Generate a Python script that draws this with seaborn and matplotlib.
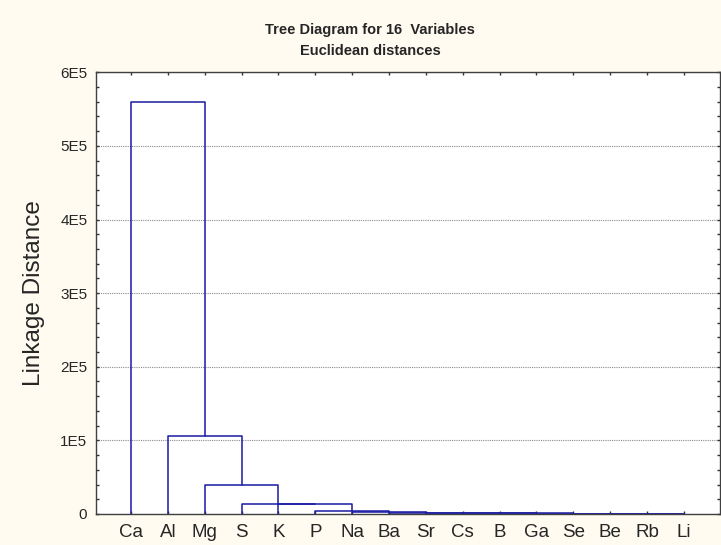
import numpy as np
import pandas as pd
import matplotlib
matplotlib.use('Agg')
import matplotlib.pyplot as plt
from matplotlib.ticker import MultipleLocator
import seaborn as sns

# データ (Statistica tree diagram, single chain of joins)
leaves = ['Ca', 'Al', 'Mg', 'S', 'K', 'P', 'Na', 'Ba', 'Sr', 'Cs', 'B', 'Ga', 'Se', 'Be', 'Rb', 'Li']
# linkage distance at which each leaf joins the cluster of everything to its right
join_dist = [5.60e5, 1.058e5, 3.98e4, 1.40e4, 1.40e4, 3.8e3, 3.0e3, 1.6e3,
             1.4e3, 1.3e3, 1.1e3, 0.0, 0.0, 0.0, 0.0]
ytick_values = [0, 1e5, 2e5, 3e5, 4e5, 5e5, 6e5]
ytick_labels = ['0', '1E5', '2E5', '3E5', '4E5', '5E5', '6E5']

title1 = 'Tree Diagram for 16  Variables'
title2 = 'Euclidean distances'

line_color = '#1a1aa6'
bg_color = '#FFFBF0'

# build the link segments (cluster line sits at its second leaf, like Statistica)
n = len(leaves)
pos = list(range(n))
line_pos = [i + 1 for i in range(n - 1)] + [n - 1]
rows = []
for i, h in enumerate(join_dist):
    right = line_pos[i + 1]
    base = join_dist[i + 1] if i + 1 < n - 1 else 0.0
    for x, y in [(pos[i], 0.0), (pos[i], h), (right, h), (right, base)]:
        rows.append({'seg': i, 'x': x, 'y': y})
seg_df = pd.DataFrame(rows)

sns.set_theme(style='ticks')
plt.rcParams['font.family'] = ['Liberation Sans', 'DejaVu Sans']

fig = plt.figure(figsize=(7.21, 5.45), dpi=100, facecolor=bg_color)
ax = fig.add_axes([0.1327, 0.0569, 0.8659, 0.8104])
ax.set_facecolor('white')

sns.lineplot(data=seg_df, x='x', y='y', units='seg', estimator=None, sort=False,
             color=line_color, lw=1.1, ax=ax, legend=False)

ax.set_xlim(-0.96, 15.98)
ax.set_ylim(0, 6e5)
ax.set_xticks(pos)
ax.set_xticklabels(leaves, fontsize=13.5)
ax.set_yticks(ytick_values)
ax.set_yticklabels(ytick_labels, fontsize=11)
ax.yaxis.set_minor_locator(MultipleLocator(2e4))

ax.tick_params(axis='both', which='both', direction='in', top=True, right=True,
               color='#303030', width=1)
ax.tick_params(axis='both', which='major', length=2.5)
ax.tick_params(axis='y', which='minor', length=2)
ax.tick_params(axis='x', pad=7)
ax.tick_params(axis='y', pad=6)

for sp in ax.spines.values():
    sp.set_color('#404040')
    sp.set_linewidth(1)

ax.grid(axis='y', which='major', color='#8a8a8a', linestyle=(0, (1, 1)), linewidth=0.8)
ax.set_axisbelow(True)

ax.set_xlabel('')
ax.set_ylabel('Linkage Distance', fontsize=17.5)
ax.yaxis.set_label_coords(-0.081, 0.5)

fig.text(370 / 721, 1 - 30 / 545, title1, ha='center', va='center',
         fontsize=10.5, fontweight='bold')
fig.text(370 / 721, 1 - 51 / 545, title2, ha='center', va='center',
         fontsize=10.5, fontweight='bold')

fig.savefig('out.png', dpi=100, facecolor=bg_color)
